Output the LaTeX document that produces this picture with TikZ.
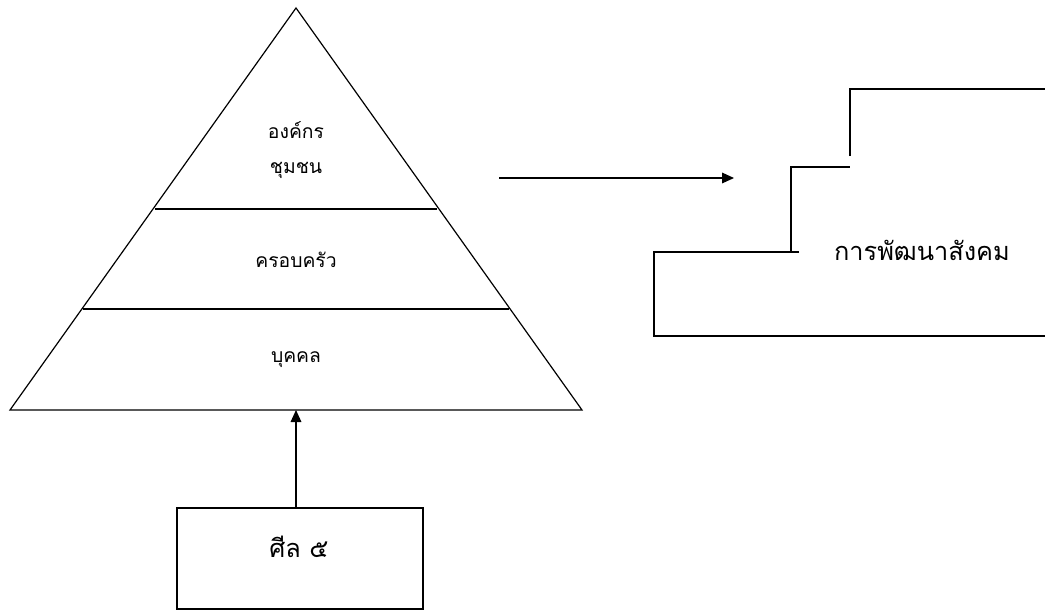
\documentclass[tikz,border=0pt]{standalone}
\usepackage{fontspec}
\newfontfamily\thaifont[Script=Thai]{Loma}
\usetikzlibrary{arrows.meta}
\tikzset{
  thaitext/.style={font=\thaifont\fontsize{14.5}{17}\selectfont, inner sep=1pt},
  bigthai/.style={font=\thaifont\fontsize{19}{22}\selectfont, inner sep=1pt},
  arrowline/.style={line width=0.9pt, -{Triangle[length=9pt,width=8pt]}},
}
\begin{document}
\begin{tikzpicture}[x=0.75pt,y=-0.75pt,line width=0.9pt]
    \useasboundingbox (0,0) rectangle (1045,610);
    %% pyramid and its layers
    \draw (10,410) -- (296,8) -- (582,410) -- cycle;
    \draw (155,209) -- (437,209);
    \draw (83,309) -- (509,309);
    \coordinate (base) at (296,410);
    %% labels of the layers
    \node[thaitext] (org) at (296,130) {องค์กร};
    \node[thaitext] (comm) at (296,170) {ชุมชน};
    \node[thaitext] (family) at (296,260) {ครอบครัว};
    \node[thaitext] (person) at (296,360) {บุคคล};
    %% box at the bottom
    \node[draw, minimum width=184.5pt, minimum height=75.75pt] (silabox) at (300,558.5) {};
    \node[bigthai] (sila) at (299,547) {ศีล ๕};
    \draw[arrowline] (silabox.north -| base) -- (base);
    %% arrow to the right
    \coordinate (from) at (499,178);
    \coordinate (to) at (734,178);
    \draw[arrowline] (from) -- (to);
    %% steps on the right (trial and error)
    \draw (799,252) -- (654,252) -- (654,336) -- (1045,336);
    \draw (791,252) -- (791,167) -- (850,167);
    \draw (850,156) -- (850,89) -- (1045,89);
    \node[bigthai] (dev) at (922,250) {การพัฒนาสังคม};
\end{tikzpicture}
\end{document}
